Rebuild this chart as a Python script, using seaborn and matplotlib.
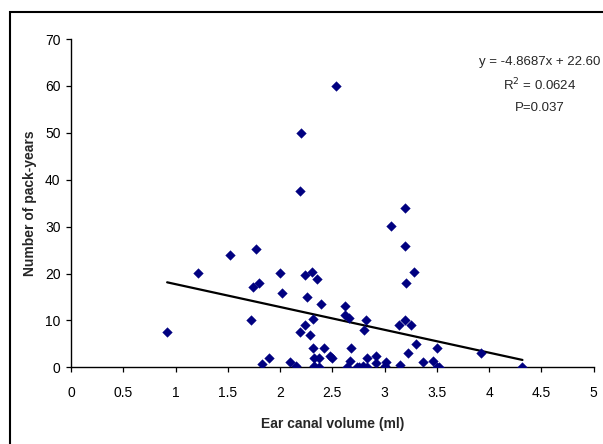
import numpy as np
import pandas as pd
import matplotlib
matplotlib.use("Agg")
import matplotlib.pyplot as plt
import seaborn as sns
from matplotlib.patches import Rectangle

# values
ear_volume = [0.92, 1.22, 1.52, 1.77, 1.745, 1.80, 1.725, 2.00, 2.02, 1.83,
              1.89, 2.10, 2.155, 2.195, 2.20, 2.19, 2.54, 2.24, 2.31, 2.355,
              2.26, 2.395, 2.315, 2.24, 2.29, 2.315, 2.425, 2.33, 2.375, 2.33,
              2.375, 2.475, 2.50, 2.625, 2.625, 2.665, 2.82, 2.80, 2.68, 2.67,
              2.645, 2.735, 2.76, 2.79, 2.83, 2.83, 2.915, 2.915, 3.01, 3.00,
              3.14, 3.195, 3.255, 3.21, 3.28, 3.20, 3.06, 3.20, 3.30, 3.225,
              3.145, 3.37, 3.46, 3.505, 3.505, 3.525, 3.92, 4.32]
pack_years = [7.5, 20.2, 24.0, 25.2, 17.1, 18.0, 10.0, 20.2, 15.8, 0.8,
              1.9, 1.1, 0.3, 7.5, 50.0, 37.5, 60.0, 19.6, 20.3, 18.8,
              14.9, 13.6, 10.4, 9.1, 6.8, 4.1, 4.1, 2.0, 2.0, 0.2,
              0.0, 2.5, 1.9, 13.0, 11.1, 10.6, 10.0, 8.0, 4.1, 1.4,
              0.1, 0.1, 0.1, 0.2, 0.1, 2.0, 2.4, 1.0, 1.2, 0.2,
              9.1, 10.0, 9.1, 18.0, 20.3, 25.8, 30.2, 34.0, 5.0, 3.0,
              0.5, 1.1, 1.4, 4.1, 0.0, 0.0, 3.1, 0.0]
slope = -4.8687
intercept = 22.60
stats_lines = ["y = -4.8687x + 22.60", "R$^2$ = 0.0624", "P=0.037"]
x_ticks = [0, 0.5, 1, 1.5, 2, 2.5, 3, 3.5, 4, 4.5, 5]
x_tick_labels = ["0", "0.5", "1", "1.5", "2", "2.5", "3", "3.5", "4", "4.5", "5"]
y_ticks = [0, 10, 20, 30, 40, 50, 60, 70]

df = pd.DataFrame({"volume": ear_volume, "packs": pack_years})

sns.set_style("white")
plt.rcParams['font.family'] = ['Liberation Sans', 'DejaVu Sans']

fig = plt.figure(figsize=(6.03, 4.44), dpi=100)
ax = fig.add_axes([71 / 603, 1 - 367.3 / 444, (593.5 - 71) / 603, (367.3 - 39) / 444])

sns.scatterplot(data=df, x="volume", y="packs", marker="D", s=24,
                color="#000080", edgecolor="#000080", linewidth=0.3, ax=ax, zorder=3)

# trend line over the data range, from the printed equation
xs = np.array([min(ear_volume), max(ear_volume)])
ax.plot(xs, slope * xs + intercept, color="black", lw=1.6, zorder=2)

ax.set_xlim(0, 5)
ax.set_ylim(0, 70)
ax.set_xticks(x_ticks)
ax.set_xticklabels(x_tick_labels)
ax.set_yticks(y_ticks)
ax.tick_params(axis="both", direction="out", length=3.5, width=0.9, labelsize=10,
               bottom=True, left=True, colors="black")
ax.tick_params(axis="x", pad=10)
ax.tick_params(axis="y", pad=4)
for side in ["top", "right"]:
    ax.spines[side].set_visible(False)
for side in ["left", "bottom"]:
    ax.spines[side].set_color("black")
    ax.spines[side].set_linewidth(1.0)

ax.set_xlabel("Ear canal volume (ml)", fontsize=10, fontweight="bold", labelpad=12)
ax.set_ylabel("Number of pack-years", fontsize=10, fontweight="bold", labelpad=6)

# regression stats, centered block in upper right
for i, line in enumerate(stats_lines):
    fig.text(540 / 603, 1 - (62 + i * 23) / 444, line, ha="center", va="center", fontsize=9.5)

# outer frame of the original chart area
fig.patches.append(Rectangle((9.5 / 603, -0.1), 1.2, 1 - 12.5 / 444 + 0.1,
                             transform=fig.transFigure, fill=False,
                             edgecolor="black", lw=1.5))

fig.savefig("out.png", dpi=100)
